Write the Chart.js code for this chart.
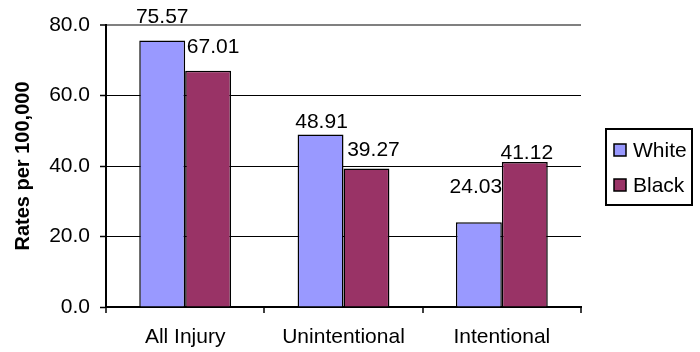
<!DOCTYPE html>
<html>
<head>
<meta charset="utf-8">
<script src="https://cdn.jsdelivr.net/npm/chart.js@4/dist/chart.umd.min.js"></script>
<style>
  body { margin: 0; background: #fff; }
</style>
</head>
<body>
<canvas id="injuryBar" width="700" height="352"></canvas>
<script>
/*............................Injury rates by race.............................*/

const categories = ['All Injury', 'Unintentional', 'Intentional'];
const whiteRates = [75.57, 48.91, 24.03];
const blackRates = [67.01, 39.27, 41.12];
const yTicks = [0, 20, 40, 60, 80];

// hand placed value labels in the original: [dx, gap above bar top]
const whiteNudge = [[0, 18], [1, 7], [-3, 29]];
const blackNudge = [[5, 18], [7, 13], [2, 3]];

const FONT = "'Liberation Sans', Arial, sans-serif";

const data = {
  labels: categories,
  datasets: [
    {
      label: 'White',
      backgroundColor: '#9999ff',
      borderColor: '#000',
      borderWidth: 1.5,
      data: whiteRates,
      nudge: whiteNudge
    },
    {
      label: 'Black',
      backgroundColor: '#993366',
      borderColor: '#000',
      borderWidth: 1.5,
      data: blackRates,
      nudge: blackNudge
    }
  ]
};

const valueLabels = {
  id: 'valueLabels',
  afterDatasetsDraw(chart) {
    const ctx = chart.ctx;
    ctx.save();
    ctx.font = '21px ' + FONT;
    ctx.fillStyle = '#000';
    ctx.textAlign = 'center';
    ctx.textBaseline = 'alphabetic';
    chart.data.datasets.forEach((ds, i) => {
      chart.getDatasetMeta(i).data.forEach((bar, j) => {
        const n = ds.nudge[j];
        ctx.fillText(ds.data[j].toFixed(2), bar.x + n[0], bar.y - n[1]);
      });
    });
    ctx.restore();
  }
};

const boxLegend = {
  id: 'boxLegend',
  afterDraw(chart) {
    const ctx = chart.ctx;
    ctx.save();
    ctx.lineWidth = 2;
    ctx.strokeStyle = '#000';
    ctx.strokeRect(606, 129, 86, 76);
    ctx.font = '21px ' + FONT;
    ctx.textBaseline = 'middle';
    chart.data.datasets.forEach((ds, i) => {
      const y = 150 + i * 35;
      ctx.fillStyle = ds.backgroundColor;
      ctx.fillRect(614, y - 6, 12, 12);
      ctx.lineWidth = 1.5;
      ctx.strokeRect(614, y - 6, 12, 12);
      ctx.fillStyle = '#000';
      ctx.fillText(ds.label, 633, y + 1);
    });
    ctx.restore();
  }
};

const config = {
  type: 'bar',
  data: data,
  options: {
    responsive: false,
    animation: false,
    layout: { padding: { left: 0, right: 119, top: 25, bottom: 0 } },
    datasets: {
      bar: { categoryPercentage: 0.58, barPercentage: 1.0, borderSkipped: 'start' }
    },
    plugins: {
      legend: { display: false },
      tooltip: { enabled: false }
    },
    scales: {
      x: {
        afterFit(scale) { scale.height = 45; },
        border: { color: '#000', width: 2 },
        grid: {
          offset: true,
          tickLength: 6,
          color: (c) => (c.index === categories.length ? '#808080' : 'rgba(0,0,0,0)'),
          lineWidth: 2,
          tickColor: '#000',
          tickWidth: 1.5
        },
        ticks: {
          color: '#000',
          padding: 12,
          font: { family: FONT, size: 21 }
        }
      },
      y: {
        min: 0,
        max: 80,
        afterFit(scale) { scale.width = 106; },
        afterBuildTicks(scale) { scale.ticks = yTicks.map(v => ({ value: v })); },
        border: { color: '#000', width: 2 },
        grid: {
          tickLength: 6,
          color: (c) => (c.tick.value === 80 ? '#808080' : '#000'),
          lineWidth: (c) => (c.tick.value === 80 ? 2 : 1),
          tickColor: '#000',
          tickWidth: 1.5
        },
        ticks: {
          color: '#000',
          padding: 10,
          font: { family: FONT, size: 21 },
          callback: (v) => Number(v).toFixed(1)
        },
        title: {
          display: true,
          text: 'Rates per 100,000',
          color: '#000',
          padding: { top: 11, bottom: 0 },
          font: { family: FONT, size: 20, weight: 'bold' }
        }
      }
    }
  },
  plugins: [valueLabels, boxLegend]
};

const ctx = document.getElementById('injuryBar').getContext('2d');
const injuryBar = new Chart(ctx, config);

/*............................Injury rates by race.............................*/
</script>
</body>
</html>
